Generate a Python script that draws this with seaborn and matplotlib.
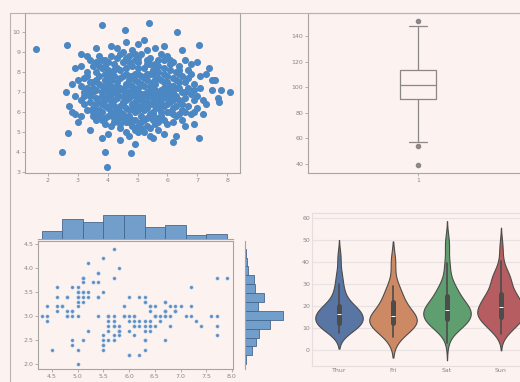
import numpy as np
import pandas as pd
import matplotlib
matplotlib.use("Agg")
import matplotlib.pyplot as plt
import seaborn as sns
from matplotlib.lines import Line2D

# ---------------- data ----------------
# top-left scatter
scatter_x = [4.9,5.2,4.6,5.5,4.3,5.0,4.8,5.7,4.1,5.3,4.5,5.1,4.7,5.8,4.4,5.4,4.9,5.6,4.2,5.0,
             4.6,5.3,4.8,5.9,4.0,5.2,4.7,5.5,4.3,5.1,4.5,5.6,4.9,5.4,4.1,5.7,4.8,5.0,4.4,5.3,
             4.6,5.8,4.2,5.2,4.7,5.5,4.0,5.9,4.9,5.1,4.3,5.4,4.8,5.6,4.5,5.0,4.6,5.7,4.1,5.3,
             4.4,5.2,4.7,5.8,4.9,5.0,4.2,5.5,4.8,5.1,4.3,5.6,4.6,5.4,4.0,5.9,4.7,5.2,4.5,5.3,
             4.9,5.7,4.1,5.0,4.4,5.5,4.8,5.1,4.6,5.8,4.2,5.4,4.7,5.2,4.3,5.6,4.9,5.0,4.5,5.3,
             3.5,3.7,3.3,3.8,3.6,3.9,3.4,3.2,3.8,3.6,6.2,6.4,6.1,6.6,6.3,6.5,6.0,6.8,6.2,6.7,
             4.5,5.0,4.8,5.4,5.7,4.2,5.1,4.7,5.9,4.4,4.6,5.0,5.3,4.3,5.6,4.9,5.8,4.1,5.2,4.7,
             3.9,3.7,3.5,3.8,3.4,3.9,3.6,3.1,3.7,3.3,6.1,6.3,6.0,6.5,6.9,6.4,6.2,6.6,6.0,6.8,
             4.0,5.5,4.5,5.3,4.9,5.8,4.3,5.6,4.1,5.0,4.4,5.4,4.8,5.7,4.0,5.1,4.6,5.9,4.2,5.5,
             3.6,3.2,3.9,3.5,3.8,3.1,3.7,3.4,3.6,3.3,6.4,6.7,6.1,6.5,6.3,6.9,6.2,6.6,6.0,6.8,
             3.9,6.1,4.1,5.8,4.0,6.0,3.8,6.2,4.4,5.6,4.2,5.7,3.5,6.4,3.7,6.3,4.5,5.3,4.8,5.1,
             2.8,2.7,2.9,2.6,3.0,3.1,7.1,7.0,7.3,7.2,7.5,7.0,6.9,7.2,4.6,5.2,4.1,5.9,3.6,6.5,
             4.4,5.5,3.8,5.9,4.9,6.3,3.4,7.6,7.8,7.7,
             3.4,3.6,3.8,3.5,3.9,3.3,3.7,3.2,3.9,3.6,6.2,6.4,6.1,6.6,6.3,6.5,6.0,6.7,6.1,6.4,
             4.6,5.0,5.4,4.3,5.7,4.9,5.2,4.0,5.9,4.7,4.5,4.9,5.3,4.2,5.7,5.0,5.5,4.4,5.1,4.8,
             3.5,3.8,3.6,3.4,3.9,3.7,3.3,3.8,3.5,3.2,6.1,6.3,6.2,6.5,6.0,6.6,6.4,6.7,6.2,6.9,
             4.1,5.6,4.3,5.8,4.0,5.9,4.2,5.7,4.6,5.3,4.4,5.4,4.7,5.2,4.1,5.9,4.0,6.0,3.9,6.1,
             2.9,3.0,2.8,3.1,7.0,7.1,6.9,7.3,4.3,5.6,3.1,6.8,3.3,6.6,4.0,5.4,2.9,7.4,5.0,4.7,
             1.6,3.97,3.8,5.37,8.1,2.47,3.9,4.77,2.63,7.07,4.57,6.33,7.07,7.73,7.5,2.67,6.17]
scatter_y = [7.1,6.8,7.4,7.2,6.9,6.3,7.8,6.6,7.3,7.6,6.5,7.4,6.7,7.1,7.7,6.4,6.0,7.8,6.6,7.9,
             6.2,7.0,7.3,6.9,7.0,6.1,7.6,6.7,7.5,6.6,7.1,7.4,6.5,7.9,6.4,7.0,6.9,7.2,6.3,6.5,
             7.9,6.4,7.8,7.7,6.1,6.0,6.8,7.5,7.6,6.9,6.1,7.3,6.4,6.3,7.8,6.7,6.9,7.7,7.6,6.2,
             7.2,7.3,7.0,6.8,7.9,6.1,7.1,7.5,6.2,7.8,7.0,6.9,6.6,6.8,7.4,7.2,7.4,6.4,6.8,7.9,
             6.8,6.2,6.9,7.5,6.0,6.5,7.1,6.2,7.3,7.6,6.3,7.1,7.8,6.9,7.3,7.1,6.3,7.0,6.4,6.8,
             7.2,6.5,7.8,8.2,5.9,8.6,6.8,7.0,5.6,8.0,7.3,6.6,8.1,7.0,5.8,7.8,5.4,6.9,8.5,6.3,
             8.5,8.7,8.3,8.4,8.6,8.4,8.9,8.8,8.2,8.9,5.5,5.3,5.7,5.6,5.4,5.1,5.8,5.3,5.0,5.8,
             7.9,7.4,6.2,6.0,7.5,5.4,8.5,6.6,8.8,6.1,6.0,7.6,8.8,6.1,7.4,8.3,5.5,7.5,6.4,7.9,
             8.1,8.1,9.0,9.1,8.6,8.9,8.7,8.4,8.8,8.2,5.2,5.2,5.6,5.1,5.8,5.5,5.0,5.6,5.9,5.9,
             6.7,7.7,6.3,8.3,7.0,7.3,5.8,8.6,5.6,6.9,7.2,8.1,7.0,5.6,6.8,6.6,6.2,8.6,7.8,5.9,
             7.6,8.4,6.0,6.0,7.7,7.1,6.8,6.6,8.1,8.0,5.5,5.5,7.0,7.9,7.8,6.3,5.7,8.6,9.1,5.8,
             7.4,6.3,8.2,7.0,5.5,8.9,7.2,6.2,7.9,6.6,7.1,8.5,5.4,5.9,9.5,9.6,9.3,9.3,9.2,9.1,
             4.6,4.7,4.7,4.9,4.4,4.8,5.1,7.6,7.1,6.7,
             7.0,7.6,6.4,5.8,8.3,8.0,6.1,6.4,5.7,7.1,7.0,7.5,6.5,6.7,8.0,6.4,6.0,7.2,8.6,5.9,
             8.2,8.5,8.7,8.2,8.3,8.9,8.2,8.5,8.6,8.5,5.9,5.6,5.3,5.7,5.7,5.0,5.6,5.4,5.2,5.3,
             7.5,7.3,6.4,6.5,6.6,8.3,7.2,8.6,6.0,6.8,7.3,7.2,7.7,7.0,6.7,6.0,8.1,7.7,5.9,7.1,
             7.9,7.6,6.7,6.6,6.2,7.9,8.1,8.0,8.7,8.4,5.8,5.9,5.5,5.6,6.6,6.3,7.2,7.5,7.1,6.8,
             6.8,7.6,6.0,8.3,6.8,7.8,6.0,6.4,9.2,9.2,5.8,8.4,8.8,5.3,4.9,4.8,5.9,8.2,9.4,4.8,
             9.15,3.25,10.35,10.45,7.0,4.0,4.0,3.95,9.35,9.35,10.1,10.0,4.7,6.5,7.6,4.95,4.5]
scatter_xticks = [2, 3, 4, 5, 6, 7, 8]
scatter_yticks = [3, 4, 5, 6, 7, 8, 9, 10]

# top-right box plot values
box_values = [39, 54, 57, 64, 70, 76, 81, 85, 88, 90, 91, 92, 93, 95, 97, 98, 99, 100, 101,
              102, 102, 103, 104, 105, 106, 108, 110, 112, 113, 114, 115, 116, 119, 123,
              128, 134, 141, 148, 152]
box_yticks = [40, 60, 80, 100, 120, 140]
box_xlabel = ["1"]

# bottom-left joint plot (iris sepal length / width)
sepal_length = [5.1,4.9,4.7,4.6,5.0,5.4,4.6,5.0,4.4,4.9,5.4,4.8,4.8,4.3,5.8,5.7,5.4,5.1,5.7,5.1,
                5.4,5.1,4.6,5.1,4.8,5.0,5.0,5.2,5.2,4.7,4.8,5.4,5.2,5.5,4.9,5.0,5.5,4.9,4.4,5.1,
                5.0,4.5,4.4,5.0,5.1,4.8,5.1,4.6,5.3,5.0,
                7.0,6.4,6.9,5.5,6.5,5.7,6.3,4.9,6.6,5.2,5.0,5.9,6.0,6.1,5.6,6.7,5.6,5.8,6.2,5.6,
                5.9,6.1,6.3,6.1,6.4,6.6,6.8,6.7,6.0,5.7,5.5,5.5,5.8,6.0,5.4,6.0,6.7,6.3,5.6,5.5,
                5.5,6.1,5.8,5.0,5.6,5.7,5.7,6.2,5.1,5.7,
                6.3,5.8,7.1,6.3,6.5,7.6,4.9,7.3,6.7,7.2,6.5,6.4,6.8,5.7,5.8,6.4,6.5,7.7,7.7,6.0,
                6.9,5.6,7.7,6.3,6.7,7.2,6.2,6.1,6.4,7.2,7.4,7.9,6.4,6.3,6.1,7.7,6.3,6.4,6.0,6.9,
                6.7,6.9,5.8,6.8,6.7,6.7,6.3,6.5,6.2,5.9]
sepal_width = [3.5,3.0,3.2,3.1,3.6,3.9,3.4,3.4,2.9,3.1,3.7,3.4,3.0,3.0,4.0,4.4,3.9,3.5,3.8,3.8,
               3.4,3.7,3.6,3.3,3.4,3.0,3.4,3.5,3.4,3.2,3.1,3.4,4.1,4.2,3.1,3.2,3.5,3.6,3.0,3.4,
               3.5,2.3,3.2,3.5,3.8,3.0,3.8,3.2,3.7,3.3,
               3.2,3.2,3.1,2.3,2.8,2.8,3.3,2.4,2.9,2.7,2.0,3.0,2.2,2.9,2.9,3.1,3.0,2.7,2.2,2.5,
               3.2,2.8,2.5,2.8,2.9,3.0,2.8,3.0,2.9,2.6,2.4,2.4,2.7,2.7,3.0,3.4,3.1,2.3,3.0,2.5,
               2.6,3.0,2.6,2.3,2.7,3.0,2.9,2.9,2.5,2.8,
               3.3,2.7,3.0,2.9,3.0,3.0,2.5,2.9,2.5,3.6,3.2,2.7,3.0,2.5,2.8,3.2,3.0,3.8,2.6,2.2,
               3.2,2.8,2.8,2.7,3.3,3.2,2.8,3.0,2.8,3.0,2.8,3.8,2.8,2.8,2.6,3.0,3.4,3.1,3.0,3.1,
               3.1,3.1,2.7,3.2,3.3,3.0,2.5,3.0,3.4,3.0]
joint_xticks = [4.5, 5.0, 5.5, 6.0, 6.5, 7.0, 7.5, 8.0]
joint_yticks = [2.0, 2.5, 3.0, 3.5, 4.0, 4.5]

# bottom-right violin plot (total bill by day)
days = ["Thur", "Fri", "Sat", "Sun"]
bill_thur = [27.20,22.76,17.29,19.44,16.66,10.07,32.68,15.98,34.83,13.03,18.28,24.71,21.16,10.65,
             12.43,24.08,11.69,13.42,14.26,15.95,12.48,29.80,8.52,14.52,11.38,22.82,19.08,20.27,
             11.17,12.26,18.26,8.51,10.33,14.15,16.00,13.16,17.47,34.30,41.19,27.05,16.43,8.35,
             18.64,11.87,9.78,7.51,19.81,28.44,15.48,16.58,7.56,10.34,43.11,13.00,13.51,18.71,
             12.74,13.00,16.40,20.53,16.47,18.78]
bill_fri = [28.97,22.49,5.75,16.32,22.75,40.17,27.28,12.03,21.01,12.46,11.35,15.38,12.16,13.42,
            8.58,15.98,13.42,16.27,10.09]
bill_sat = [20.65,17.92,20.29,15.77,39.42,19.82,17.81,13.37,12.69,21.70,19.65,9.55,18.35,15.06,
            20.69,17.78,24.06,16.31,16.93,18.69,31.27,16.04,38.01,26.41,11.24,48.27,20.29,13.81,
            11.02,18.29,17.59,20.08,16.45,3.07,20.23,15.01,12.02,17.07,26.86,25.28,14.73,10.51,
            17.92,44.30,22.42,20.92,15.36,20.49,25.21,18.24,14.31,14.00,7.25,10.59,10.63,50.81,
            15.81,26.59,38.73,24.27,12.76,30.06,25.89,48.33,13.27,28.17,12.90,28.15,11.59,7.74,
            30.14,20.45,13.28,22.12,24.01,15.69,11.61,10.77,15.53,10.07,12.60,32.83,35.83,29.03,
            27.18,22.67,17.82]
bill_sun = [16.99,10.34,21.01,23.68,24.59,25.29,8.77,26.88,15.04,14.78,10.27,35.26,15.42,18.43,
            14.83,21.58,10.33,16.29,16.97,17.46,13.94,9.68,30.40,18.29,22.23,32.40,28.55,18.04,
            12.54,10.29,34.81,9.94,25.56,19.49,38.07,23.95,25.71,17.31,29.93,14.07,13.13,17.26,
            24.55,19.77,29.85,48.17,25.00,13.39,16.49,21.50,12.66,16.21,13.81,17.51,24.52,20.76,
            31.71,7.25,31.85,16.82,32.90,17.89,14.48,9.60,34.63,34.65,23.33,45.35,23.17,40.55,
            20.69,20.90,30.46,18.15,23.10,15.69]
violin_yticks = [0, 10, 20, 30, 40, 50, 60]

# ---------------- style ----------------
BG = "#fcf2f0"
SPINE = "#a8a4a4"
TXT = "#8a8686"
sns.set_theme(style="ticks")
plt.rcParams["font.family"] = ["DejaVu Sans"]

W, H = 520, 382
fig = plt.figure(figsize=(5.2, 3.82), dpi=100, facecolor=BG)


def box(l, r, t, b):
    return [l / W, 1 - b / H, (r - l) / W, (b - t) / H]


def style(ax, spine_color=SPINE):
    ax.set_facecolor(BG)
    for s in ax.spines.values():
        s.set_color(spine_color)
        s.set_linewidth(0.8)
    ax.tick_params(labelsize=4.5, labelcolor=TXT, color=SPINE, length=2, width=0.6, pad=1.5)
    ax.set_xlabel("")
    ax.set_ylabel("")


# top-left scatter
ax1 = fig.add_axes(box(25, 240, 13, 173))
sns.scatterplot(x=scatter_x, y=scatter_y, ax=ax1, s=26, color="#4b87c2", linewidth=0)
ax1.set_xlim(1.23, 8.43)
ax1.set_ylim(2.95, 10.95)
ax1.set_xticks(scatter_xticks)
ax1.set_yticks(scatter_yticks)
style(ax1)

# top-right box plot
ax2 = fig.add_axes(box(308, 528, 13, 173))
sns.boxplot(y=box_values, ax=ax2, width=0.16, fill=False, color="#8c8888", linewidth=0.9,
            flierprops=dict(marker="o", markersize=3, markerfacecolor="#8c8888",
                            markeredgecolor="#8c8888"))
ax2.set_xlim(-0.5, 0.5)
ax2.set_ylim(33, 158)
ax2.set_yticks(box_yticks)
ax2.set_xticks([0])
ax2.set_xticklabels(box_xlabel)
style(ax2)

# bottom-left joint plot
jm = fig.add_axes(box(38, 233, 241, 369))
jt = fig.add_axes(box(38, 233, 214, 239), sharex=jm)
jr = fig.add_axes(box(245, 285, 241, 369), sharey=jm)
sns.scatterplot(x=sepal_length, y=sepal_width, ax=jm, s=7, color="#5d90c6",
                edgecolor="#e4eef7", linewidth=0.3)
jm.set_xlim(4.23, 8.02)
jm.set_ylim(1.9, 4.56)
jm.set_xticks(joint_xticks)
jm.set_yticks(joint_yticks)
jm.set_xticklabels([f"{v:.1f}" for v in joint_xticks])
jm.set_yticklabels([f"{v:.1f}" for v in joint_yticks])
style(jm)
sns.histplot(x=sepal_length, ax=jt, color="#5a8fc6", edgecolor="#46688e", linewidth=0.6,
             alpha=0.85)
sns.histplot(y=sepal_width, ax=jr, color="#5a8fc6", edgecolor="#46688e", linewidth=0.6,
             alpha=0.85)
for a in (jt, jr):
    style(a)
    a.tick_params(left=False, bottom=False, labelleft=False, labelbottom=False)
    for s in ("top", "right"):
        a.spines[s].set_visible(False)
jt.spines["left"].set_visible(False)
jr.spines["bottom"].set_visible(False)
jt.set_xlabel("")
jt.set_ylabel("")
jr.set_xlabel("")
jr.set_ylabel("")

# bottom-right violin plot
df_v = pd.DataFrame({
    "day": ["Thur"] * len(bill_thur) + ["Fri"] * len(bill_fri)
           + ["Sat"] * len(bill_sat) + ["Sun"] * len(bill_sun),
    "total_bill": bill_thur + bill_fri + bill_sat + bill_sun,
})
ax4 = fig.add_axes(box(312, 528, 213, 366))
sns.violinplot(data=df_v, x="day", y="total_bill", hue="day", order=days, hue_order=days,
               palette="deep", ax=ax4, linewidth=0.8, width=0.88, legend=False)
ax4.set_ylim(-7.3, 62.3)
ax4.set_yticks(violin_yticks)
ax4.yaxis.grid(True, color="#e8e2e2", linewidth=0.8)
ax4.set_axisbelow(True)
style(ax4, spine_color="#e4dede")
ax4.tick_params(length=0)

# outer frame line on the left
fig.add_artist(Line2D([10 / W, 10 / W], [0, 1 - 13 / H], color="#b8b2b2", linewidth=0.8,
                      transform=fig.transFigure))
fig.add_artist(Line2D([10 / W, 1], [1 - 13 / H, 1 - 13 / H], color="#b8b2b2", linewidth=0.8,
                      transform=fig.transFigure))

fig.savefig("out.png", dpi=100, facecolor=BG)
